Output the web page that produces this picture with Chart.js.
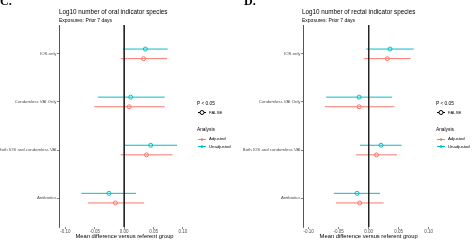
<!DOCTYPE html>
<html><head><meta charset="utf-8">
<script src="https://cdn.jsdelivr.net/npm/chart.js@4/dist/chart.umd.min.js"></script>
<style>
html,body{margin:0;padding:0;background:#fff;width:474px;height:240px;overflow:hidden;font-family:"Liberation Sans",Arial,sans-serif;}
.panel{position:absolute;top:0;width:237px;height:240px;}
.t{position:absolute;white-space:nowrap;color:#000;line-height:1;}
.lab{font-family:"Liberation Serif",serif;font-weight:bold;font-size:12px;}
.key{position:absolute;}
</style></head><body>
<div class="panel" id="p1" style="left:0"><canvas id="c1" width="237" height="240"></canvas></div>
<div class="panel" id="p2" style="left:237px"><canvas id="c2" width="237" height="240"></canvas></div>
<div class="t lab" style="left:0;top:-5px">C.</div>
<div class="t lab" style="left:244px;top:-5px">D.</div>
<div class="t" style="left:59px;top:9px;font-size:6.3px">Log10 number of oral indicator species</div>
<div class="t" style="left:59px;top:17.5px;font-size:5px">Exposures: Prior 7 days</div>
<div class="t" style="left:302px;top:9px;font-size:6.3px">Log10 number of rectal indicator species</div>
<div class="t" style="left:302px;top:17.5px;font-size:5px">Exposures: Prior 7 days</div>
<div id="leg1"></div><div id="leg2"></div>
<script>
const categories = ["IOS only","Condomless VAI Only","Both IOS and condomless VAI","Antibiotics"];
const xTickValues = [-0.10,-0.05,0.00,0.05,0.10];
const xTickLabels = ["-0.10","-0.05","0.00","0.05","0.10"];
const seriesNames = ["Adjusted","Unadjusted"];
const seriesColors = ["#F8766D","#00BFC4"];

// Oral panel
const oralAdjEst   = [0.033, 0.0085, 0.038, -0.015];
const oralAdjLo    = [-0.006, -0.051, -0.006, -0.062];
const oralAdjHi    = [0.073, 0.069, 0.082, 0.034];
const oralUnadjEst = [0.036, 0.011, 0.045, -0.026];
const oralUnadjLo  = [-0.002, -0.045, 0.0005, -0.073];
const oralUnadjHi  = [0.074, 0.069, 0.090, 0.020];

// Rectal panel
const rectAdjEst   = [0.031, -0.016, 0.013, -0.015];
const rectAdjLo    = [-0.008, -0.073, -0.021, -0.0545];
const rectAdjHi    = [0.070, 0.043, 0.047, 0.025];
const rectUnadjEst = [0.0355, -0.016, 0.0205, -0.0195];
const rectUnadjLo  = [-0.004, -0.071, -0.0145, -0.058];
const rectUnadjHi  = [0.075, 0.039, 0.055, 0.019];

const FONT = "'Liberation Sans', Arial, sans-serif";
const DODGE = 0.1;

function buildDatasets(groups){
  const ds = [];
  // reference line at zero
  ds.push({type:'line', data:[{x:0,y:0.4},{x:0,y:4.6}], borderColor:'#222', borderWidth:1, pointRadius:0, showLine:true});
  groups.forEach((g,gi)=>{
    const off = gi===0 ? DODGE : -DODGE;
    g.est.forEach((e,i)=>{
      ds.push({type:'line', data:[{x:g.lo[i],y:i+1+off},{x:g.hi[i],y:i+1+off}], borderColor:seriesColors[gi], borderWidth:1, pointRadius:0, showLine:true});
    });
    ds.push({type:'scatter', data:g.est.map((e,i)=>({x:e,y:i+1+off})), borderColor:seriesColors[gi], backgroundColor:'#fff', pointRadius:2, pointBorderWidth:1, pointStyle:'circle'});
  });
  return ds;
}

function makeChart(id, groups, xmin, xmax, yWidth, padRight){
  return new Chart(document.getElementById(id), {
    data:{datasets:buildDatasets(groups)},
    options:{
      responsive:false, animation:false, devicePixelRatio:1,
      layout:{padding:{top:25,right:padRight,left:0,bottom:0}},
      plugins:{legend:{display:false},tooltip:{enabled:false}},
      scales:{
        x:{type:'linear', min:xmin, max:xmax,
          afterBuildTicks:s=>{s.ticks = xTickValues.map(v=>({value:v}));},
          afterFit:s=>{s.height = 13;},
          border:{display:false},
          grid:{drawOnChartArea:false, drawTicks:true, tickLength:2, color:'#333', lineWidth:0.6},
          ticks:{padding:0.5, color:'#4d4d4d', font:{family:FONT,size:4.5}, maxRotation:0, autoSkip:false,
            callback:(v,i)=>xTickLabels[i]},
          title:{display:true, text:'Mean difference versus referent group', color:'#000', font:{family:FONT,size:5.8}, padding:{top:0,bottom:0}}
        },
        y:{type:'linear', min:0.4, max:4.6, reverse:true,
          afterBuildTicks:s=>{s.ticks = categories.map((c,i)=>({value:i+1}));},
          afterFit:s=>{s.width = yWidth;},
          border:{display:true, color:'#555', width:1},
          grid:{drawOnChartArea:false, drawTicks:true, tickLength:2, color:'#333', lineWidth:0.6},
          ticks:{padding:0.5, color:'#4d4d4d', font:{family:FONT,size:4.3}, autoSkip:false,
            callback:(v)=>categories[Math.round(v)-1]}
        }
      }
    }
  });
}

makeChart('c1', [
  {est:oralAdjEst, lo:oralAdjLo, hi:oralAdjHi},
  {est:oralUnadjEst, lo:oralUnadjLo, hi:oralUnadjHi}
], -0.111, 0.112, 59, 47);

makeChart('c2', [
  {est:rectAdjEst, lo:rectAdjLo, hi:rectAdjHi},
  {est:rectUnadjEst, lo:rectUnadjLo, hi:rectUnadjHi}
], -0.1095, 0.1095, 66, 39.6);

function legend(el, x){
  let h = '';
  h += `<div class="t" style="left:${x}px;top:102px;font-size:4.8px">P &lt; 0.05</div>`;
  h += `<svg class="key" style="left:${x}px;top:109px" width="10" height="7"><line x1="1" y1="3.5" x2="9" y2="3.5" stroke="#000" stroke-width="1"/><circle cx="5" cy="3.5" r="2" fill="#fff" stroke="#000" stroke-width="1"/></svg>`;
  h += `<div class="t" style="left:${x+12}px;top:110.5px;font-size:4.3px">FALSE</div>`;
  h += `<div class="t" style="left:${x}px;top:127.5px;font-size:4.8px">Analysis</div>`;
  seriesNames.forEach((n,i)=>{
    const y = 135.5 + i*7.5;
    h += `<svg class="key" style="left:${x}px;top:${y}px" width="10" height="7"><line x1="1" y1="3.5" x2="9" y2="3.5" stroke="${seriesColors[i]}" stroke-width="1"/><circle cx="5" cy="3.5" r="1.3" fill="${seriesColors[i]}"/></svg>`;
    h += `<div class="t" style="left:${x+12}px;top:${y+1.5}px;font-size:4.3px">${n}</div>`;
  });
  document.getElementById(el).innerHTML = h;
}
legend('leg1', 197);
legend('leg2', 436);
</script>
</body></html>
